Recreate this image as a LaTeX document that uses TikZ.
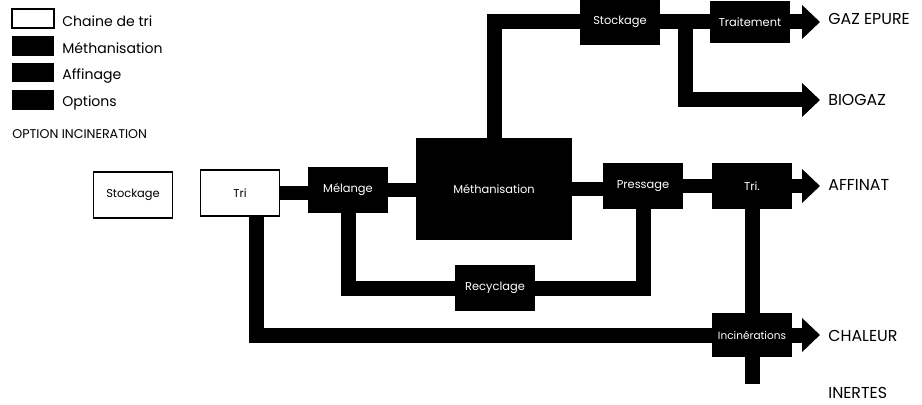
\documentclass[tikz,border=0pt]{standalone}
\usepackage{fontspec}
\setmainfont{Poppins}
\usetikzlibrary{arrows.meta,calc,backgrounds}

\begin{document}
\begin{tikzpicture}[x=0.02cm, y=-0.02cm,
  whtbox/.style={draw, fill=white, line width=1pt, minimum width=1.58cm, minimum height=0.92cm, font=\fontsize{6.5}{7}\selectfont},
  blkbox/.style={fill=black, text=white, minimum width=1.6cm, minimum height=0.92cm, font=\fontsize{6.5}{7}\selectfont},
  legbox/.style={minimum width=0.84cm, minimum height=0.39cm, inner sep=0pt},
  legtext/.style={anchor=base west, inner sep=0pt, font=\fontsize{8}{9}\selectfont},
  outlbl/.style={anchor=west, inner sep=0pt, font=\fontsize{9}{10}\selectfont},
  pipe/.style={line width=0.3cm},
  flow/.style={pipe, -{Triangle[length=0.36cm, width=0.66cm]}, shorten >=0.16cm}
]
\useasboundingbox (0,0) rectangle (922,405);

% legende
\node[legbox, draw, line width=1pt] (kchaine) at (33,18.5) {};
\node[legbox, fill=black] (kmetha) at (33,46) {};
\node[legbox, fill=black] (kaffin) at (33,72.5) {};
\node[legbox, fill=black] (koption) at (33,100) {};
\node[legtext] (tchaine) at (62,27) {Chaine de tri};
\node[legtext] (tmetha) at (62,54) {Méthanisation};
\node[legtext] (taffin) at (62,80) {Affinage};
\node[legtext] (toption) at (62,107) {Options};
\node[outlbl, font=\fontsize{7.2}{8}\selectfont] (optinc) at (12,134) {OPTION INCINERATION};

% chaine
\node[whtbox] (stock1) at (133,195) {Stockage};
\node[whtbox] (tri) at (240,193) {Tri};
\node[blkbox] (melange) at (348,190) {Mélange};
\node[blkbox, minimum width=3.12cm, minimum height=2.04cm] (metha) at (494,189) {Méthanisation};
\node[blkbox] (stock2) at (620,22) {Stockage};
\node[blkbox, minimum height=0.86cm] (trait) at (750,22) {Traitement};
\node[blkbox] (presse) at (643,186) {Pressage};
\node[blkbox] (tri2) at (752,186) {Tri.};
\node[blkbox] (recyc) at (495,288) {Recyclage};
\node[blkbox, minimum height=0.88cm, font=\fontsize{6}{6}\selectfont] (incin) at (752,335) {Incinérations};

% sorties
\node[outlbl] (gaz) at (828,19) {GAZ EPURE};
\node[outlbl] (biogaz) at (828,100) {BIOGAZ};
\node[outlbl] (affinat) at (828,185) {AFFINAT};
\node[outlbl] (chaleur) at (828,336) {CHALEUR};
\node[outlbl] (inertes) at (828,393) {INERTES};

\coordinate (split) at ($(stock2.east)!0.5!(trait.west)$);
\coordinate (inertbas) at (752,384);

\begin{scope}[on background layer]
\draw[pipe] (tri) -- (tri -| melange);
\draw[pipe] (melange) -- (melange -| metha);
\draw[pipe] (melange) |- (recyc);
\draw[pipe] (presse) |- (recyc);
\draw[pipe] (metha) |- (stock2);
\draw[pipe] (stock2) -- (trait);
\draw[pipe] (metha) -- (metha -| presse);
\draw[pipe] (presse) -- (tri2);
\draw[pipe] (tri2) -- (incin);
\draw[pipe] ($(tri.south)+(16,0)$) |- (incin);
\draw[pipe] (incin) -- (inertbas);
\draw[flow] (trait) -- (trait -| gaz.west);
\draw[flow] (split) |- (biogaz.west);
\draw[flow] (tri2) -- (tri2 -| affinat.west);
\draw[flow] (incin) -- (incin -| chaleur.west);
\end{scope}
\end{tikzpicture}
\end{document}
